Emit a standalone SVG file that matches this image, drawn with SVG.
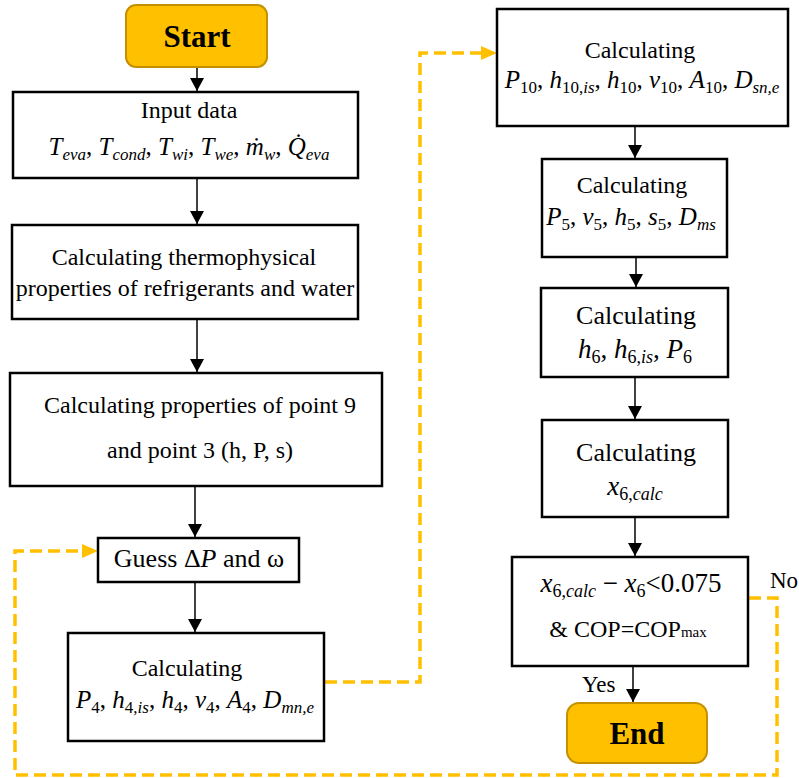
<svg xmlns="http://www.w3.org/2000/svg" width="799" height="778" viewBox="0 0 799 778" font-family="Liberation Serif">
  <style>
    .box { fill: #ffffff; stroke: #000000; stroke-width: 2.5; }
    .term { fill: #FFC000; stroke: #C49000; stroke-width: 2; }
    .t { font-size: 24px; fill: #000; text-anchor: middle; }
    .tb { font-size: 31px; font-weight: bold; fill: #000; text-anchor: middle; }
    .lbl { font-size: 23px; fill: #000; }
    .m { font-size: 25px; fill: #000; text-anchor: middle; }
    .i { font-style: italic; }
    .s { font-size: 17px; }
    .flow { fill: none; stroke: #000000; stroke-width: 1.5; marker-end: url(#arrowBlack); }
    .loop { fill: none; stroke: #FFC000; stroke-width: 3.5; stroke-dasharray: 12 6; marker-end: url(#arrowGold); }
  </style>
  <defs>
    <marker id="arrowBlack" markerUnits="userSpaceOnUse" markerWidth="14" markerHeight="14" viewBox="0 0 13 14" refX="13" refY="7" orient="auto">
      <path d="M0,0 L13,7 L0,14 z" fill="#000000"/>
    </marker>
    <marker id="arrowGold" markerUnits="userSpaceOnUse" markerWidth="16" markerHeight="14" viewBox="0 0 16 14" refX="8" refY="7" orient="auto">
      <path d="M0,0 L16,7 L0,14 z" fill="#FFC000"/>
    </marker>
  </defs>

  <!-- connectors -->
  <g id="connectors">
    <path class="flow" d="M197,67 V91"/>
    <path class="flow" d="M197,179 V224"/>
    <path class="flow" d="M197,320 V372"/>
    <path class="flow" d="M195,487 V537"/>
    <path class="flow" d="M195,583 V632"/>
    <path class="flow" d="M635,127 V158"/>
    <path class="flow" d="M636,258 V287"/>
    <path class="flow" d="M635,378 V419"/>
    <path class="flow" d="M635,518 V556"/>
    <path class="flow" d="M633,667 V702"/>
    <path class="loop" d="M325,682 H420 V53 H489"/>
    <path class="loop" d="M749,598 H777 V775 H15 V551 H90"/>
  </g>

  <g id="start">
    <rect class="term" x="126" y="5" width="141" height="62" rx="10"/>
    <text class="tb" x="197" y="47">Start</text>
  </g>

  <g id="input">
    <rect class="box" x="13" y="92" width="345" height="86"/>
    <text class="t" x="189" y="118">Input data</text>
    <text class="m" x="189" y="155"><tspan class="i">T</tspan><tspan class="s i" dy="5">eva</tspan><tspan dy="-5">, </tspan><tspan class="i">T</tspan><tspan class="s i" dy="5">cond</tspan><tspan dy="-5">, </tspan><tspan class="i">T</tspan><tspan class="s i" dy="5">wi</tspan><tspan dy="-5">, </tspan><tspan class="i">T</tspan><tspan class="s i" dy="5">we</tspan><tspan dy="-5">, </tspan><tspan class="i">ṁ</tspan><tspan class="s i" dy="5">w</tspan><tspan dy="-5">, </tspan><tspan class="i">Q&#x307;</tspan><tspan class="s i" dy="5">eva</tspan></text>
  </g>

  <g id="thermo">
    <rect class="box" x="12" y="225" width="346" height="94"/>
    <text class="t" x="184" y="265">Calculating thermophysical</text>
    <text class="t" x="185" y="296">properties of refrigerants and water</text>
  </g>

  <g id="point93">
    <rect class="box" x="10" y="373" width="372" height="113"/>
    <text class="t" x="200" y="413">Calculating properties of point 9</text>
    <text class="t" x="200" y="458">and point 3 (h, P, s)</text>
  </g>

  <g id="guess">
    <rect class="box" x="98" y="538" width="201" height="44"/>
    <text class="t" x="199" y="567" style="font-size:26px">Guess Δ<tspan class="i">P</tspan> and ω</text>
  </g>

  <g id="calcP4">
    <rect class="box" x="68" y="633" width="256" height="108"/>
    <text class="t" x="187" y="676">Calculating</text>
    <text class="m" x="195" y="708"><tspan class="i">P</tspan><tspan class="s" dy="5">4</tspan><tspan dy="-5">, </tspan><tspan class="i">h</tspan><tspan class="s" dy="5">4,</tspan><tspan class="s i">is</tspan><tspan dy="-5">, </tspan><tspan class="i">h</tspan><tspan class="s" dy="5">4</tspan><tspan dy="-5">, </tspan><tspan class="i">v</tspan><tspan class="s" dy="5">4</tspan><tspan dy="-5">, </tspan><tspan class="i">A</tspan><tspan class="s" dy="5">4</tspan><tspan dy="-5">, </tspan><tspan class="i">D</tspan><tspan class="s i" dy="5">mn,e</tspan></text>
  </g>

  <g id="calcP10">
    <rect class="box" x="497" y="9" width="291" height="117"/>
    <text class="t" x="640" y="58">Calculating</text>
    <text class="m" x="642" y="88"><tspan class="i">P</tspan><tspan class="s" dy="5">10</tspan><tspan dy="-5">, </tspan><tspan class="i">h</tspan><tspan class="s" dy="5">10,</tspan><tspan class="s i">is</tspan><tspan dy="-5">, </tspan><tspan class="i">h</tspan><tspan class="s" dy="5">10</tspan><tspan dy="-5">, </tspan><tspan class="i">v</tspan><tspan class="s" dy="5">10</tspan><tspan dy="-5">, </tspan><tspan class="i">A</tspan><tspan class="s" dy="5">10</tspan><tspan dy="-5">, </tspan><tspan class="i">D</tspan><tspan class="s i" dy="5">sn,e</tspan></text>
  </g>

  <g id="calcP5">
    <rect class="box" x="542" y="159" width="185" height="98"/>
    <text class="t" x="632" y="193">Calculating</text>
    <text class="m" x="631" y="225"><tspan class="i">P</tspan><tspan class="s" dy="5">5</tspan><tspan dy="-5">, </tspan><tspan class="i">v</tspan><tspan class="s" dy="5">5</tspan><tspan dy="-5">, </tspan><tspan class="i">h</tspan><tspan class="s" dy="5">5</tspan><tspan dy="-5">, </tspan><tspan class="i">s</tspan><tspan class="s" dy="5">5</tspan><tspan dy="-5">, </tspan><tspan class="i">D</tspan><tspan class="s i" dy="5">ms</tspan></text>
  </g>

  <g id="calcH6">
    <rect class="box" x="541" y="288" width="187" height="89"/>
    <text class="t" x="636" y="324" style="font-size:26px">Calculating</text>
    <text class="m" x="635" y="358" style="font-size:27px"><tspan class="i">h</tspan><tspan class="s" dy="5" style="font-size:18px">6</tspan><tspan dy="-5">, </tspan><tspan class="i">h</tspan><tspan class="s" dy="5" style="font-size:18px">6,</tspan><tspan class="s i" style="font-size:18px">is</tspan><tspan dy="-5">, </tspan><tspan class="i">P</tspan><tspan class="s" dy="5" style="font-size:18px">6</tspan></text>
  </g>

  <g id="calcX6">
    <rect class="box" x="542" y="420" width="186" height="97"/>
    <text class="t" x="636" y="461" style="font-size:26px">Calculating</text>
    <text class="m" x="635" y="495" style="font-size:27px"><tspan class="i">x</tspan><tspan class="s" dy="5" style="font-size:18px">6,</tspan><tspan class="s i" style="font-size:18px">calc</tspan></text>
  </g>

  <g id="check">
    <rect class="box" x="512" y="557" width="236" height="109"/>
    <text class="m" x="631" y="592" style="font-size:27px"><tspan class="i">x</tspan><tspan class="s" dy="5" style="font-size:18px">6,</tspan><tspan class="s i" style="font-size:18px">calc</tspan><tspan dy="-5"> − </tspan><tspan class="i">x</tspan><tspan class="s" dy="5" style="font-size:18px">6</tspan><tspan dy="-5">&lt;0.075</tspan></text>
    <text class="t" x="628" y="637">&amp; COP=COP<tspan style="font-size:15px">max</tspan></text>
    <text class="lbl" x="770" y="588">No</text>
    <text class="lbl" x="582" y="692">Yes</text>
  </g>

  <g id="end">
    <rect class="term" x="567" y="703" width="140" height="60" rx="12"/>
    <text class="tb" x="637" y="744">End</text>
  </g>
</svg>
